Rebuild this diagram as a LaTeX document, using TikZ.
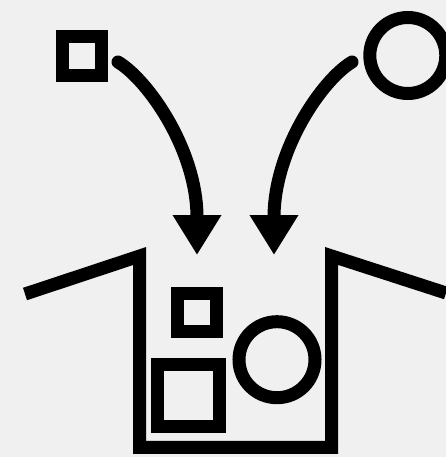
\documentclass[tikz,border=0pt]{standalone}
\usepackage{tikz}
\usetikzlibrary{arrows.meta}
\definecolor{paper}{RGB}{240,240,240}

\begin{document}
\begin{tikzpicture}[x=1pt, y=-1pt,
    piece/.style={draw, line width=13pt, inner sep=0pt, outer sep=0pt},
    sq/.style={piece, rectangle},
    ring/.style={piece, circle, minimum size=76pt},
    arr/.style={-{Triangle[length=40pt 0, width=46pt 0]}, line width=13pt, line cap=round},
    bin/.style={line width=13pt, line join=miter}
]
\useasboundingbox[fill=paper] (0,0) rectangle (446,457);

% things outside
\node[sq, minimum size=38.5pt] (topsq) at (82.2,55.8) {};
\node[ring] (topring) at (407.8,55.5) {};

% things already inside
\node[sq, minimum size=38.3pt] (insq) at (197,312.8) {};
\node[sq, minimum size=61.7pt] (bigsq) at (188.8,395.5) {};
\node[ring] (inring) at (277,359.7) {};

% the open box
\coordinate (flapl) at (25,294);
\coordinate (topl) at (139.7,256);
\coordinate (botl) at (139.7,447.3);
\coordinate (botr) at (331.7,447.3);
\coordinate (topr) at (331.7,256);
\coordinate (flapr) at (446,293);
\draw[bin] (flapl) -- (topl) -- (botl) -- (botr) -- (topr) -- (flapr);

% arrows
\coordinate (fromsq) at (118,62);
\coordinate (fromring) at (352,62);
\coordinate (dropl) at (197,255);
\coordinate (dropr) at (274,255);
\draw[arr] (fromsq) .. controls (148,80) and (197,150) .. (dropl);
\draw[arr] (fromring) .. controls (322,80) and (274,150) .. (dropr);
\end{tikzpicture}
\end{document}
